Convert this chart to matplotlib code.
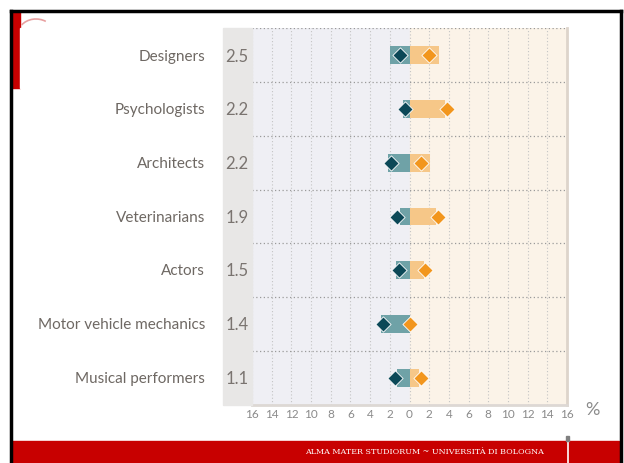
import matplotlib
matplotlib.use('Agg')
import matplotlib.pyplot as plt
from matplotlib.patches import Rectangle, Arc
from matplotlib.lines import Line2D

# data
categories = ['Designers', 'Psychologists', 'Architects', 'Veterinarians',
              'Actors', 'Motor vehicle mechanics', 'Musical performers']
ratios = ['2.5', '2.2', '2.2', '1.9', '1.5', '1.4', '1.1']
left_bar = [-2.0, -0.7, -2.2, -1.0, -1.4, -2.9, -1.3]
left_pt = [-1.0, -0.5, -1.9, -1.3, -1.1, -2.7, -1.5]
right_bar = [3.0, 3.6, 2.1, 2.7, 1.5, 0.0, 1.0]
right_pt = [2.0, 3.8, 1.2, 2.9, 1.6, 0.0, 1.2]
ticks = list(range(-16, 17, 2))

W, H = 624, 463
fig = plt.figure(figsize=(W / 100, H / 100), dpi=100)
plt.rcParams['font.family'] = ['Lato', 'DejaVu Sans']


def fx(px):
    return px / W


def fy(py):
    return 1 - py / H


# slide decorations
fig.patches.append(Rectangle((fx(12), fy(88)), fx(8), fy(12) - fy(88),
                             transform=fig.transFigure, color='#c80000', zorder=1))
fig.patches.append(Arc((fx(36), fy(34)), fx(36), fy(0) - fy(30), theta1=60, theta2=140,
                       transform=fig.transFigure, color='#e8a0a0', lw=1.2))
fig.patches.append(Rectangle((fx(20), fy(88)), fx(40), fy(28) - fy(88),
                             transform=fig.transFigure, color='white', zorder=2))
fig.patches.append(Rectangle((fx(12), 0), fx(607), fy(441),
                             transform=fig.transFigure, color='#c80000', zorder=1))
fig.lines.append(Line2D([fx(10.5), fx(10.5)], [0, fy(10.5)], transform=fig.transFigure,
                        color='black', lw=2.5))
fig.lines.append(Line2D([fx(10.5), fx(621)], [fy(10.5), fy(10.5)], transform=fig.transFigure,
                        color='black', lw=2.5))
fig.lines.append(Line2D([fx(621), fx(621)], [0, fy(10.5)], transform=fig.transFigure,
                        color='black', lw=2.5))
fig.lines.append(Line2D([fx(567.5), fx(567.5)], [0, fy(441)], transform=fig.transFigure,
                        color='white', lw=1.2, zorder=3))
fig.patches.append(Rectangle((fx(566), fy(441)), fx(3), fy(436) - fy(441),
                             transform=fig.transFigure, color='#808080', zorder=3))
fig.text(fx(424), fy(452.5), 'ALMA MATER STUDIORUM ~ UNIVERSITÀ DI BOLOGNA',
         color='white', fontsize=5.8, family='DejaVu Serif', ha='center', va='center')

# grey column with the ratio labels
fig.patches.append(Rectangle((fx(223), fy(405)), fx(29), fy(28) - fy(405),
                             transform=fig.transFigure, color='#e8e7e6', zorder=0))

ax = fig.add_axes([fx(252), fy(405), fx(567 - 252), fy(28) - fy(405)])
n = len(categories)
ax.set_xlim(-16, 16)
ax.set_ylim(n - 0.5, -0.5)
ax.axvspan(-16, 0, color='#efeff4', zorder=0)
ax.axvspan(0, 16, color='#fbf3e8', zorder=0)

for t in ticks:
    ax.axvline(t, color='#c4c4c4', lw=0.8, ls=(0, (1, 2)), zorder=1)
for i in range(n):
    ax.axhline(i - 0.5, color='#9a9a9a', lw=0.9, ls=(0, (1, 2)), zorder=1)

ys = list(range(n))
ax.barh(ys, left_bar, height=0.33, color='#6fa2a7', lw=0, zorder=2)
ax.barh(ys, right_bar, height=0.33, color='#f6c788', lw=0, zorder=2)
ax.scatter(left_pt, ys, marker='D', s=60, color='#0b4857', edgecolor='white', lw=0.6, zorder=3)
ax.scatter(right_pt, ys, marker='D', s=60, color='#f2961d', edgecolor='white', lw=0.6, zorder=3)

for spine in ['top', 'left']:
    ax.spines[spine].set_visible(False)
ax.spines['right'].set_color('#ddd4cb')
ax.spines['right'].set_linewidth(2)
ax.spines['bottom'].set_color('#ddd8d4')
ax.spines['bottom'].set_linewidth(2)

ax.set_yticks([])
ax.set_xticks(ticks)
ax.set_xticklabels([str(abs(t)) for t in ticks], fontsize=8.5, color='#8a8a8a')
ax.tick_params(axis='x', length=0, pad=3)

for i in range(n):
    fig.text(fx(205), fy(56.5 + i * 53.7), categories[i], ha='right', va='center',
             fontsize=11, color='#6e6863')
    fig.text(fx(237), fy(56.5 + i * 53.7), ratios[i], ha='center', va='center',
             fontsize=12, color='#7a7470')
fig.text(fx(592), fy(410), '%', ha='center', va='center', fontsize=13, color='#8a8a8a')

fig.savefig('out.png', dpi=100)
